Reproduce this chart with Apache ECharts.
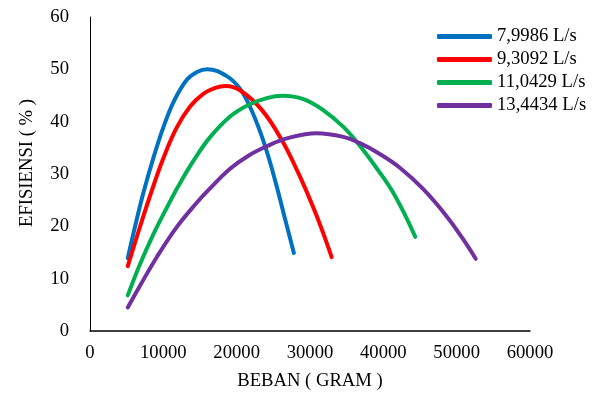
<!DOCTYPE html>
<html>
<head>
<meta charset="utf-8">
<title>Efisiensi vs Beban</title>
<script src="https://cdn.jsdelivr.net/npm/echarts@6/dist/echarts.min.js"></script>
<style>
html,body{margin:0;padding:0;background:#fff}
#chart{width:598px;height:408px}
</style>
</head>
<body>
<div id="chart"></div>
<script>
// nama debit (legend)
var seriesNames = ['7,9986 L/s', '9,3092 L/s', '11,0429 L/s', '13,4434 L/s'];
var seriesColors = ['#0070C0', '#FF0000', '#00B050', '#7030A0'];

// beban (gram) dan efisiensi (%)
var beban1 = [5150, 6200, 7300, 8650, 10000, 11400, 13200, 14600, 16000, 18650, 20450, 21800, 23200, 24350, 25500, 26600, 27800];
var efisiensi1 = [13.9, 20.3, 26.5, 33.1, 38.9, 43.8, 48.0, 49.5, 50.0, 48.7, 46.3, 42.9, 38.1, 33.2, 27.4, 21.4, 14.9];

var beban2 = [5150, 6950, 8400, 10000, 11800, 13650, 15450, 17000, 18500, 20450, 23400, 26150, 28400, 30450, 31800, 32950];
var efisiensi2 = [12.4, 20.5, 26.7, 33.0, 38.8, 42.9, 45.3, 46.4, 46.8, 46.0, 42.3, 36.5, 30.2, 23.6, 18.7, 14.1];

var beban3 = [5150, 6800, 8650, 10450, 12050, 14100, 16350, 19100, 21600, 24100, 26300, 29100, 31800, 34550, 36800, 39300, 41150, 42950, 44350];
var efisiensi3 = [6.8, 12.7, 18.5, 23.5, 27.7, 32.5, 37.0, 41.0, 43.2, 44.5, 44.95, 44.3, 42.2, 39.0, 35.4, 30.7, 26.9, 22.2, 18.0];

var beban4 = [5150, 6800, 9100, 11800, 14550, 16200, 19100, 21600, 24100, 26850, 30900, 34550, 36800, 39300, 42250, 45450, 48650, 50900, 52600];
var efisiensi4 = [4.5, 8.6, 14.1, 19.8, 24.5, 27.0, 31.0, 33.5, 35.3, 36.8, 37.8, 37.1, 35.9, 34.0, 31.2, 27.1, 21.9, 17.5, 13.8];

var bebanList = [beban1, beban2, beban3, beban4];
var efisiensiList = [efisiensi1, efisiensi2, efisiensi3, efisiensi4];

var fontName = 'Liberation Serif';
var fontSz = 18.67;

var myChart = echarts.init(document.getElementById('chart'));

var series = seriesNames.map(function (nm, i) {
	return {
		name: nm,
		type: 'line',
		smooth: 0.4,
		showSymbol: false,
		symbol: 'none',
		color: seriesColors[i],
		lineStyle: { width: 4, cap: 'round', join: 'round', color: seriesColors[i] },
		data: bebanList[i].map(function (x, j) { return [x, efisiensiList[i][j]]; })
	};
});

var option = {
	backgroundColor: '#fff',
	animation: false,
	grid: {
		left: 90,
		right: 68,
		top: 17,
		bottom: 77,
		outerBoundsMode: 'none'
	},
	legend: {
		data: seriesNames,
		orient: 'vertical',
		left: 432,
		top: 22,
		icon: 'roundRect',
		itemWidth: 55,
		itemHeight: 5,
		itemGap: 4,
		textStyle: { fontFamily: fontName, fontSize: fontSz, color: '#000' }
	},
	xAxis: {
		type: 'value',
		min: 0,
		max: 60000,
		interval: 10000,
		name: 'BEBAN ( GRAM )',
		nameLocation: 'middle',
		nameGap: 41,
		nameTextStyle: { fontFamily: fontName, fontSize: fontSz, color: '#000' },
		axisLine: { show: true, lineStyle: { color: '#000', width: 1.5 } },
		axisTick: { show: false },
		splitLine: { show: false },
		axisLabel: {
			fontFamily: fontName, fontSize: fontSz, color: '#000', margin: 13,
			formatter: function (v) { return String(v); }
		}
	},
	yAxis: {
		type: 'value',
		min: 0,
		max: 60,
		interval: 10,
		name: 'EFISIENSI ( % )',
		nameLocation: 'middle',
		nameGap: 53,
		nameTextStyle: { fontFamily: fontName, fontSize: fontSz, color: '#000', padding: [0, 0, 0, 22] },
		axisLine: { show: true, lineStyle: { color: '#000', width: 1 } },
		axisTick: { show: false },
		splitLine: { show: false },
		axisLabel: { fontFamily: fontName, fontSize: fontSz, color: '#000', margin: 21 }
	},
	series: series
};

myChart.setOption(option);
</script>
</body>
</html>
